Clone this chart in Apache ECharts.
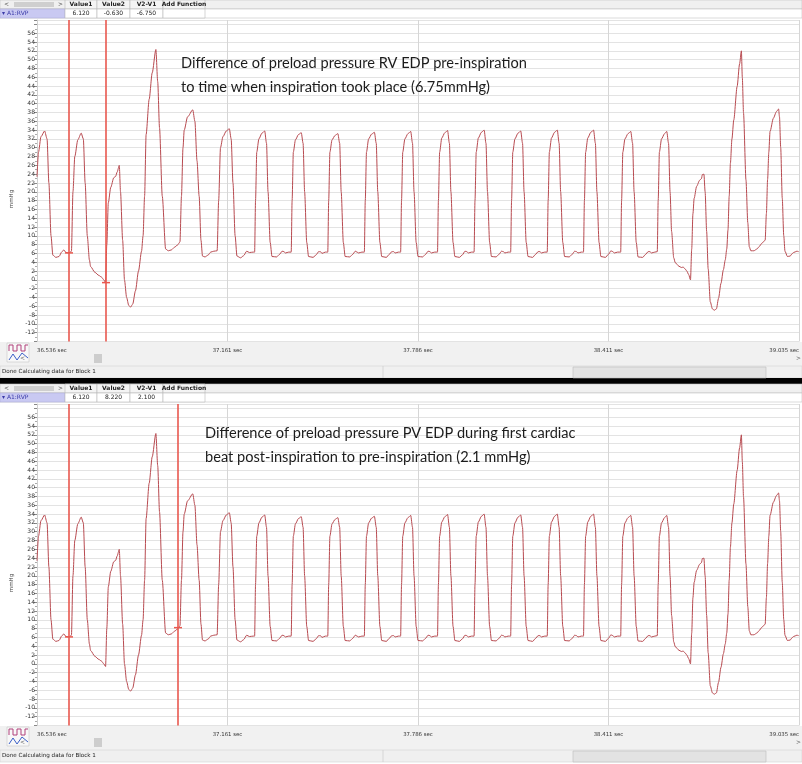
<!DOCTYPE html>
<html>
<head>
<meta charset="utf-8">
<script src="https://cdn.jsdelivr.net/npm/echarts@6/dist/echarts.min.js"></script>
<style>
  html, body { margin: 0; padding: 0; background: #fff; }
  #chart { width: 802px; height: 764px; }
</style>
</head>
<body>
<div id="chart"></div>
<script>
// time (sec) / RVP (mmHg)
let rvpTrace = [
  // first beats + inspiration
  [36.536,23.4],[36.541,29],[36.549,32.5],[36.561,33.8],[36.569,32],[36.575,22],[36.582,10],[36.588,5.6],[36.598,5.1],[36.608,5.3],[36.618,6.4],[36.624,6.8],[36.631,6.2],[36.641,6.1],
  [36.649,6.5],[36.654,20],[36.660,28],[36.670,31.8],[36.681,33.3],[36.688,32],[36.694,22],[36.701,10],[36.708,4.5],[36.712,3.0],[36.726,1.7],[36.739,1.0],[36.748,0.6],[36.755,0.0],[36.761,-0.6],
  [36.765,8],[36.770,17.5],[36.778,21],[36.788,23.2],[36.794,23.5],[36.799,24.5],[36.806,26],[36.810,20],[36.817,9],[36.823,0],[36.830,-4],[36.837,-5.8],[36.843,-6.2],[36.850,-5.5],[36.859,-2.5],[36.869,2.0],
  [36.879,6.5],[36.884,10],[36.889,19],[36.894,33],[36.904,41],[36.914,47],[36.926,52.3],[36.932,45],[36.938,34.5],[36.947,19],[36.958,7.0],[36.967,6.6],[36.977,6.8],[36.987,7.4],[36.997,7.9],[37.005,8.6],
  [37.010,19],[37.015,30],[37.019,34],[37.030,37],[37.047,38.6],[37.054,36],[37.061,27],[37.068,19],[37.074,9],[37.079,5.4],[37.087,5.2],[37.097,5.6],[37.106,6.3],[37.116,6.5],[37.127,6.6],
  [37.132,18],[37.138,30],[37.146,32.5],[37.157,33.8],[37.167,34.3],[37.173,32],[37.179,22],[37.186,10],[37.192,5.4],[37.204,5.0],[37.214,5.5],[37.224,6.5],[37.233,6.2],[37.245,6.3],
  // steady beats
  [37.250,6.3],[37.253,18],[37.257,29],[37.264,32],[37.274,33.3],[37.283,33.8],[37.289,31],[37.294,20],[37.301,8.5],[37.307,5.3],[37.322,5.2],[37.332,5.8],[37.340,6.5],[37.346,6.4],[37.351,6.1],[37.362,6.3],
  [37.370,6.3],[37.373,18],[37.377,29],[37.384,31.8],[37.394,33.0],[37.403,33.4],[37.409,31],[37.414,20],[37.421,8.5],[37.427,5.3],[37.442,5.1],[37.452,5.7],[37.460,6.4],[37.466,6.4],[37.471,6.0],[37.482,6.3],
  [37.490,6.3],[37.493,18],[37.497,29],[37.504,31.8],[37.514,32.8],[37.523,33.2],[37.529,31],[37.534,20],[37.541,8.5],[37.547,5.3],[37.562,5.2],[37.572,5.8],[37.580,6.5],[37.586,6.3],[37.591,6.1],[37.602,6.3],
  [37.610,6.3],[37.613,18],[37.617,29],[37.624,32],[37.634,33.1],[37.643,33.5],[37.649,31],[37.654,20],[37.661,8.5],[37.667,5.3],[37.682,5.1],[37.692,5.8],[37.700,6.4],[37.706,6.4],[37.711,6.1],[37.722,6.3],
  [37.729,6.3],[37.732,18],[37.736,29],[37.743,32],[37.753,33.2],[37.762,33.7],[37.768,31],[37.773,20],[37.780,8.5],[37.786,5.3],[37.801,5.2],[37.811,5.8],[37.819,6.5],[37.825,6.4],[37.830,6.1],[37.841,6.3],
  [37.850,6.3],[37.853,18],[37.857,29],[37.864,32.2],[37.874,33.4],[37.883,33.9],[37.889,31],[37.894,20],[37.901,8.5],[37.907,5.3],[37.922,5.1],[37.932,5.7],[37.940,6.5],[37.946,6.4],[37.951,6.1],[37.962,6.3],
  [37.970,6.3],[37.973,18],[37.977,29],[37.984,32.2],[37.994,33.5],[38.003,34.0],[38.009,31],[38.014,20],[38.021,8.5],[38.027,5.3],[38.042,5.2],[38.052,5.8],[38.060,6.5],[38.066,6.4],[38.071,6.1],[38.082,6.3],
  [38.090,6.3],[38.093,18],[38.097,29],[38.104,32],[38.114,33.3],[38.123,33.8],[38.129,31],[38.134,20],[38.141,8.5],[38.147,5.3],[38.162,5.1],[38.172,5.8],[38.180,6.4],[38.186,6.4],[38.191,6.1],[38.202,6.3],
  [38.210,6.3],[38.213,18],[38.217,29],[38.224,32.2],[38.234,33.5],[38.243,34.0],[38.249,31],[38.254,20],[38.261,8.5],[38.267,5.3],[38.282,5.2],[38.292,5.8],[38.300,6.5],[38.306,6.4],[38.311,6.1],[38.322,6.3],
  [38.329,6.3],[38.332,18],[38.336,29],[38.343,32.2],[38.353,33.5],[38.362,34.0],[38.368,31],[38.373,20],[38.380,8.5],[38.386,5.3],[38.401,5.1],[38.411,5.8],[38.419,6.6],[38.425,6.4],[38.430,6.1],[38.441,6.3],
  [38.451,6.3],[38.454,18],[38.458,29],[38.465,32],[38.475,33.2],[38.484,33.7],[38.490,31],[38.495,20],[38.502,8.5],[38.508,5.2],[38.523,5.1],[38.533,5.8],[38.541,6.4],[38.547,6.4],[38.552,6.1],[38.563,6.3],
  // second inspiration
  [38.571,6.4],[38.574,18],[38.578,29],[38.585,32],[38.595,33.2],[38.602,33.7],[38.608,31],[38.613,20],[38.618,11],[38.625,5.0],[38.630,3.9],[38.642,3.1],[38.650,2.8],[38.656,2.9],[38.662,2.5],[38.668,2.0],[38.674,1.2],[38.680,0.0],
  [38.684,7],[38.688,15],[38.692,18.5],[38.700,21.2],[38.710,22.6],[38.716,23.0],[38.719,23.9],[38.724,24.0],[38.728,20],[38.733,11],[38.738,2.5],[38.745,-5.0],[38.752,-6.6],[38.758,-6.9],[38.765,-6.6],[38.772,-4.2],[38.780,-0.8],[38.788,2.3],[38.794,4.5],
  [38.799,7],[38.803,11.3],[38.807,19],[38.811,26.5],[38.816,32],[38.822,36.3],[38.833,43.9],[38.841,49],[38.847,52],[38.850,46],[38.854,37.9],[38.862,22.7],[38.868,13],[38.873,7.5],[38.878,6.6],[38.888,6.6],[38.898,7.0],[38.906,7.6],[38.914,8.3],[38.925,9.0],
  [38.929,15],[38.933,22.8],[38.937,29],[38.941,33.7],[38.952,36.7],[38.962,38.2],[38.969,38.8],[38.972,37],[38.976,30],[38.981,18.6],[38.986,10],[38.990,6.5],[38.998,5.3],[39.007,5.4],[39.013,5.9],[39.018,6.2],[39.029,6.5],[39.035,6.4]
];

let startSec = 36.536;
let timeTicks = ['36.536', '37.161', '37.786', '38.411', '39.035'];

// cursor positions (sec) and their readings (mmHg)
let cursorTimeTop = [36.641, 36.761];
let cursorValTop = [6.12, -0.63];
let cursorTimeBottom = [36.641, 37.000];
let cursorValBottom = [6.12, 8.22];

let colTitles = ['Value1', 'Value2', 'V2-V1', 'Add Function'];
let noteTop = ['Difference of preload pressure RV EDP pre-inspiration', 'to time when inspiration took place (6.75mmHg)'];
let noteBottom = ['Difference of preload pressure PV EDP during first cardiac', 'beat post-inspiration to pre-inspiration (2.1 mmHg)'];

let traceColor = '#b84a50';
let cursorColor = '#e9584f';
let uiFont = '"DejaVu Sans", sans-serif';
let yMin = -14, yMax = 59;
let shift = 384; // second panel offset

function toMs(t){ return Math.round((t - startSec) * 1000 * 10) / 10; }
let traceMs = rvpTrace.map(function(p){ return [toMs(p[0]), p[1]]; });

function header(y0, vals){
  let els = [];
  let edges = [65, 97, 130, 163, 205];
  els.push({type:'rect', z:-5, shape:{x:0, y:y0, width:802, height:9}, style:{fill:'#f0f0f0', stroke:'#c4c4c4', lineWidth:0.6}});
  els.push({type:'rect', z:-5, shape:{x:0, y:y0+9, width:802, height:9}, style:{fill:'#fff', stroke:'#c4c4c4', lineWidth:0.6}});
  els.push({type:'rect', z:-4, shape:{x:14, y:y0+2, width:40, height:5}, style:{fill:'#cfcfcf'}});
  els.push({type:'text', z:5, x:4, y:y0+4.5, style:{text:'<', font:'6px '+uiFont, fill:'#444', verticalAlign:'middle'}});
  els.push({type:'text', z:5, x:58, y:y0+4.5, style:{text:'>', font:'6px '+uiFont, fill:'#444', verticalAlign:'middle'}});
  els.push({type:'rect', z:-4, shape:{x:0, y:y0+9, width:65, height:9}, style:{fill:'#c9c9f2', stroke:'#b0b0d8', lineWidth:0.6}});
  els.push({type:'text', z:5, x:2, y:y0+13.5, style:{text:'\u25be A1:RVP', font:'6px '+uiFont, fill:'#3a3aa8', verticalAlign:'middle'}});
  let strs = [vals[0].toFixed(3), vals[1].toFixed(3), (vals[1]-vals[0]).toFixed(3)];
  for (let i=0; i<4; i++){
    let x = edges[i], w = edges[i+1]-edges[i];
    els.push({type:'rect', z:-4, shape:{x:x, y:y0, width:w, height:9}, style:{fill:'#f4f4f4', stroke:'#b8b8b8', lineWidth:0.6}});
    els.push({type:'text', z:5, x:x+w/2, y:y0+4.5, style:{text:colTitles[i], font:'bold 6px '+uiFont, fill:'#222', align:'center', verticalAlign:'middle'}});
    els.push({type:'rect', z:-4, shape:{x:x, y:y0+9, width:w, height:9}, style:{fill:'#fff', stroke:'#b8b8b8', lineWidth:0.6}});
    if (i < 3) {
      els.push({type:'text', z:5, x:x+w/2, y:y0+13.5, style:{text:strs[i], font:'6px '+uiFont, fill:'#222', align:'center', verticalAlign:'middle'}});
    }
  }
  return els;
}

function footer(y0){
  let els = [];
  els.push({type:'rect', z:-5, shape:{x:0, y:y0+342, width:802, height:24}, style:{fill:'#f1f1f1'}});
  els.push({type:'rect', z:-4, shape:{x:7, y:y0+343, width:22, height:19}, style:{fill:'#f8f8f8', stroke:'#c8c8c8', lineWidth:0.6}});
  els.push({type:'polyline', z:5, shape:{points:[[9,y0+351],[9,y0+345],[13,y0+345],[13,y0+351],[17,y0+351],[17,y0+345],[21,y0+345],[21,y0+351],[25,y0+351],[25,y0+345],[28,y0+345]]}, style:{stroke:'#b0407a', lineWidth:1, fill:null}});
  els.push({type:'polyline', z:5, shape:{points:[[9,y0+360],[13,y0+354],[17,y0+360],[22,y0+353],[28,y0+358]]}, style:{stroke:'#3a5fc8', lineWidth:1, fill:null}});
  els.push({type:'text', z:5, x:20, y:y0+358, style:{text:'<', font:'6px '+uiFont, fill:'#555', verticalAlign:'middle'}});
  els.push({type:'rect', z:-4, shape:{x:94, y:y0+354, width:8, height:9}, style:{fill:'#cdcdcd'}});
  els.push({type:'text', z:5, x:796, y:y0+358, style:{text:'>', font:'6px '+uiFont, fill:'#555', verticalAlign:'middle'}});
  els.push({type:'rect', z:-5, shape:{x:0, y:y0+366, width:802, height:12}, style:{fill:'#f0f0f0', stroke:'#d4d4d4', lineWidth:0.6}});
  els.push({type:'line', z:-4, shape:{x1:383, y1:y0+366, x2:383, y2:y0+378}, style:{stroke:'#cfcfcf', lineWidth:0.8}});
  els.push({type:'rect', z:-4, shape:{x:573, y:y0+367, width:193, height:11}, style:{fill:'#e3e3e3', stroke:'#bcbcbc', lineWidth:0.6}});
  els.push({type:'text', z:5, x:2, y:y0+372, style:{text:'Done Calculating data for Block 1', font:'5.6px '+uiFont, fill:'#222', verticalAlign:'middle'}});
  els.push({type:'text', z:5, x:12, y:y0+199, rotation:Math.PI/2, style:{text:'mmHg', font:'5.5px '+uiFont, fill:'#444', align:'center', verticalAlign:'middle'}});
  return els;
}

function note(x, y, lines){
  return {type:'text', z:10, x:x, y:y, style:{text:lines.join('\n'), font:'14.6px Lato, "Open Sans", sans-serif', fill:'#1c1c1c', lineHeight:24}};
}

function xAxisFor(k){
  return {
    gridIndex:k, type:'value', min:0, max:2500, interval:625,
    axisLine:{show:false}, axisTick:{show:false},
    splitLine:{show:true, lineStyle:{color:'#d6d6d6', width:1}},
    axisLabel:{fontSize:5.4, color:'#333', fontFamily:'DejaVu Sans', margin:7, alignMinLabel:'left', alignMaxLabel:'right',
      formatter:function(v){ return timeTicks[Math.round(v/625)] + ' sec'; }}
  };
}

function yAxisFor(k){
  return {
    gridIndex:k, type:'value', min:yMin, max:yMax, interval:2,
    axisLine:{show:true, lineStyle:{color:'#cfcfcf'}},
    axisTick:{show:true, length:3, lineStyle:{color:'#888'}},
    minorTick:{show:true, splitNumber:2, length:2, lineStyle:{color:'#aaa'}},
    splitLine:{show:true, lineStyle:{color:'#e3e3e3', width:1}},
    axisLabel:{fontSize:6, color:'#333', fontFamily:'DejaVu Sans', margin:2,
      formatter:function(v){ return (v < -12 || v > 56) ? '' : String(v); }}
  };
}

function traceSeries(k){
  return {
    type:'line', xAxisIndex:k, yAxisIndex:k, data:traceMs, z:3,
    color:traceColor, showSymbol:false, smooth:0.25, smoothMonotone:'x',
    emphasis:{disabled:true},
    lineStyle:{color:traceColor, width:1}
  };
}

// cursor: full-height vertical line plus a short dash at the reading
function cursorSeries(k, times, vals){
  return {
    type:'custom', xAxisIndex:k, yAxisIndex:k, z:4, silent:true, clip:false,
    data:times.map(function(t, i){ return [toMs(t), vals[i]]; }),
    renderItem:function(params, api){
      let p = api.coord([api.value(0), api.value(1)]);
      let cs = params.coordSys;
      let x = Math.round(p[0]);
      return {type:'group', children:[
        {type:'line', shape:{x1:x, y1:cs.y, x2:x, y2:cs.y + cs.height}, style:{stroke:cursorColor, lineWidth:1.6}},
        {type:'line', shape:{x1:x-4, y1:p[1], x2:x+4, y2:p[1]}, style:{stroke:cursorColor, lineWidth:1.5}}
      ]};
    }
  };
}

let option = {
  animation:false,
  backgroundColor:'#fff',
  grid:[
    {left:37, top:20, width:765, height:321.5},
    {left:37, top:20+shift, width:765, height:321.5}
  ],
  xAxis:[xAxisFor(0), xAxisFor(1)],
  yAxis:[yAxisFor(0), yAxisFor(1)],
  series:[
    traceSeries(0),
    traceSeries(1),
    cursorSeries(0, cursorTimeTop, cursorValTop),
    cursorSeries(1, cursorTimeBottom, cursorValBottom)
  ],
  graphic:[].concat(
    header(0, cursorValTop),
    footer(0),
    [{type:'rect', z:-5, shape:{x:0, y:378, width:802, height:6.5}, style:{fill:'#000'}}],
    header(shift, cursorValBottom),
    footer(shift),
    [note(181, 51, noteTop), note(205, 421, noteBottom)]
  )
};

var myChart = echarts.init(document.getElementById('chart'));
myChart.setOption(option);
</script>
</body>
</html>
